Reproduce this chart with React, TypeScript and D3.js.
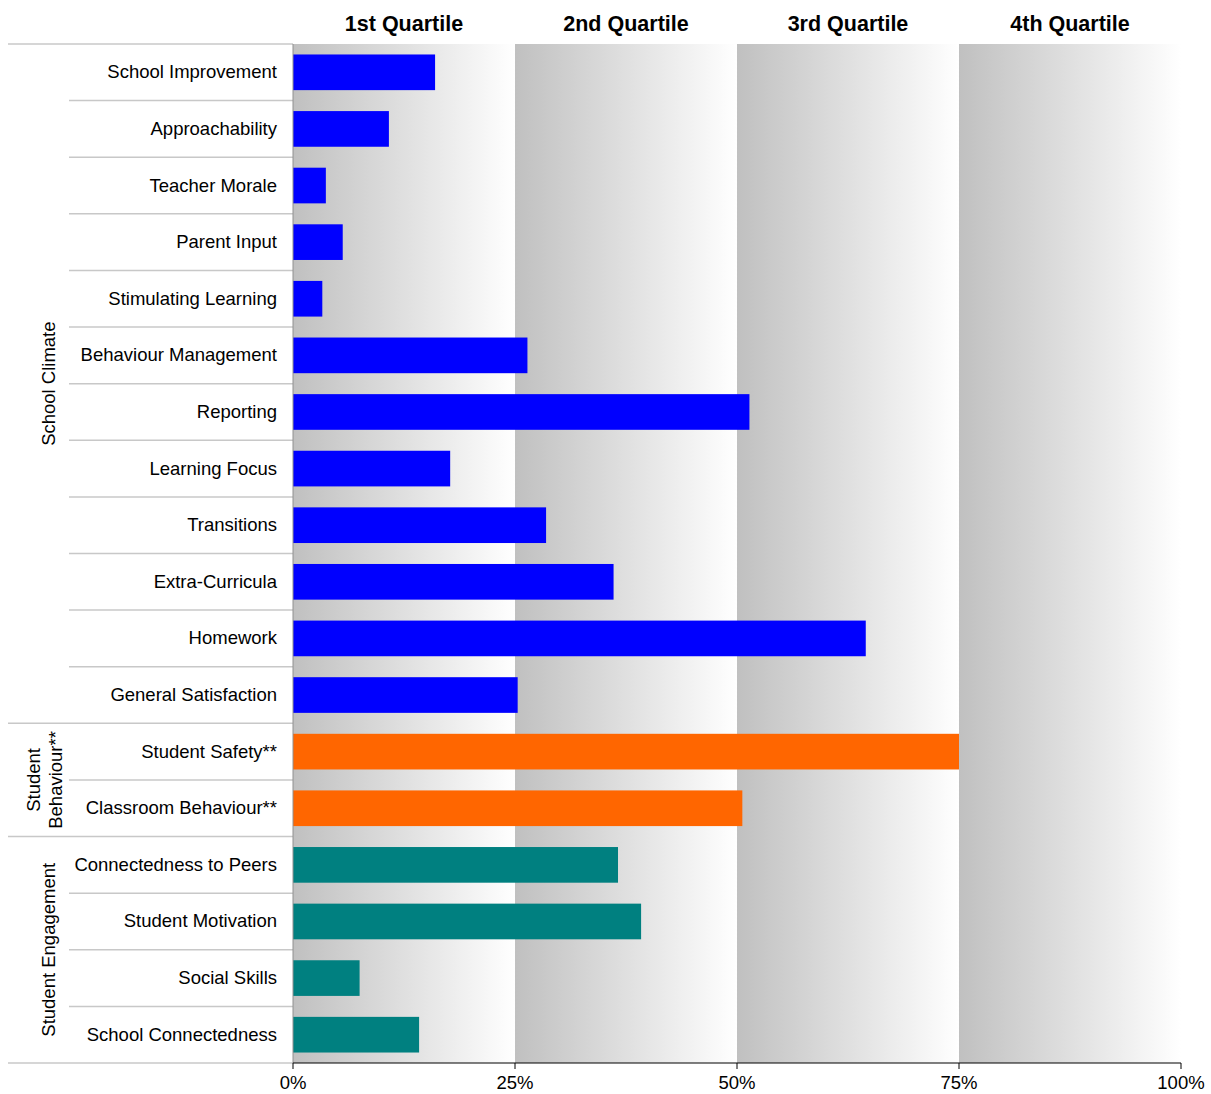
import React from 'react';
import * as d3 from 'd3';

const categories = [
  'School Improvement', 'Approachability', 'Teacher Morale', 'Parent Input', 'Stimulating Learning',
  'Behaviour Management', 'Reporting', 'Learning Focus', 'Transitions', 'Extra-Curricula', 'Homework',
  'General Satisfaction', 'Student Safety**', 'Classroom Behaviour**', 'Connectedness to Peers',
  'Student Motivation', 'Social Skills', 'School Connectedness',
];
const values = [16, 10.8, 3.7, 5.6, 3.3, 26.4, 51.4, 17.7, 28.5, 36.1, 64.5, 25.3, 75, 50.6, 36.6, 39.2, 7.5, 14.2];
const groups = [
  { name: ['School Climate'], start: 0, end: 12, color: '#0000ff' },
  { name: ['Student', 'Behaviour**'], start: 12, end: 14, color: '#ff6600' },
  { name: ['Student Engagement'], start: 14, end: 18, color: '#008080' },
];
const quartiles = ['1st Quartile', '2nd Quartile', '3rd Quartile', '4th Quartile'];
const ticks = [0, 25, 50, 75, 100];

const App: React.FC = () => {
  const W = 1211, H = 1094;
  const x = d3.scaleLinear().domain([0, 100]).range([293, 1181]);
  const y = d3.scaleBand<number>().domain(d3.range(categories.length)).range([44, 1063]).paddingInner(0.37).paddingOuter(0.185);
  const step = y.step();
  const rowTop = (i: number) => 44 + i * step;
  const colorOf = (i: number) => groups.find(g => i >= g.start && i < g.end)!.color;
  const font = 'Arial, "Liberation Sans", sans-serif';

  return (
    <svg width={W} height={H} style={{ position: 'absolute', left: 0, top: 0 }} fontFamily={font}>
      <defs>
        <linearGradient id="qg" x1="0" x2="1" y1="0" y2="0">
          <stop offset="0" stopColor="#c0c0c0" />
          <stop offset="1" stopColor="#ffffff" />
        </linearGradient>
      </defs>
      {quartiles.map((q, i) => (
        <g key={q}>
          <rect x={x(i * 25)} y={44} width={x(25) - x(0)} height={1063 - 44} fill="url(#qg)" />
          <text x={(x(i * 25) + x(i * 25 + 25)) / 2} y={31} textAnchor="middle" fontSize={21.5} fontWeight="bold">{q}</text>
        </g>
      ))}
      {categories.map((c, i) => (
        <g key={c}>
          <rect x={x(0)} y={y(i)!} width={x(values[i]) - x(0)} height={y.bandwidth()} fill={colorOf(i)} />
          <text x={277} y={rowTop(i) + step / 2 + 6} textAnchor="end" fontSize={18.5}>{c}</text>
          {i > 0 && <line x1={groups.some(g => g.start === i) ? 8 : 69} x2={293} y1={rowTop(i)} y2={rowTop(i)} stroke="#c8c8c8" strokeWidth={1.5} />}
        </g>
      ))}
      <line x1={8} x2={293} y1={44} y2={44} stroke="#c8c8c8" strokeWidth={1.5} />
      <line x1={8} x2={293} y1={1063} y2={1063} stroke="#c8c8c8" strokeWidth={1.5} />
      {groups.map(g => {
        const cy = (rowTop(g.start) + rowTop(g.end)) / 2;
        const n = g.name.length;
        return (
          <text key={g.name.join()} transform={`translate(${n > 1 ? 45 : 49},${cy}) rotate(-90)`} textAnchor="middle" fontSize={18.5}>
            {g.name.map((t, k) => (
              <tspan key={t} x={0} y={(k - (n - 1) / 2) * 22 + 6}>{t}</tspan>
            ))}
          </text>
        );
      })}
      <line x1={x(0)} x2={x(0)} y1={44} y2={1063} stroke="#909090" strokeWidth={1} />
      <line x1={x(0)} x2={x(100)} y1={1063} y2={1063} stroke="#000" strokeWidth={1} />
      {ticks.map(t => (
        <g key={t}>
          <line x1={x(t)} x2={x(t)} y1={1063} y2={1069} stroke="#000" />
          <text x={x(t)} y={1089} textAnchor="middle" fontSize={18.5}>{t}%</text>
        </g>
      ))}
    </svg>
  );
};

export default App;
